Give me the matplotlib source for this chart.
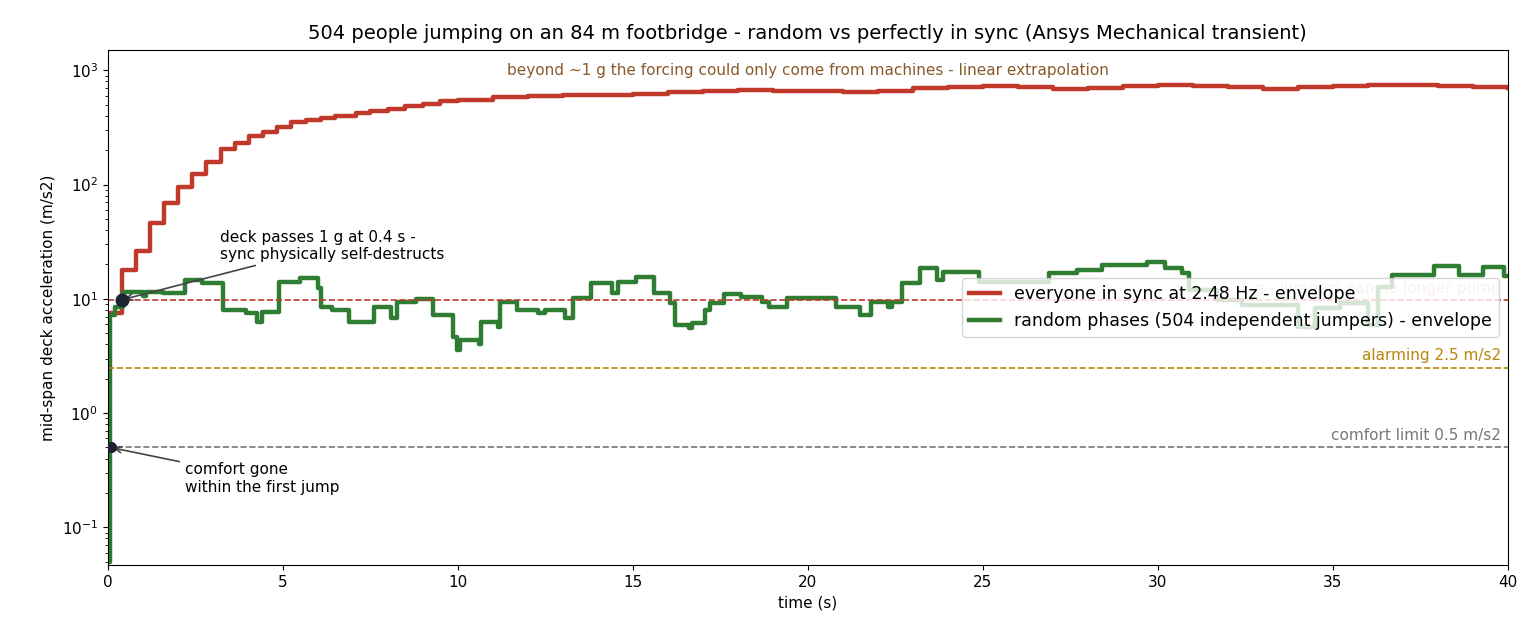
import matplotlib
matplotlib.use("Agg")
import matplotlib.pyplot as plt

red_t = [0, 0.403, 0.806, 1.21, 1.61, 2.02, 2.42, 2.82, 3.23, 3.63, 4.03, 4.44, 4.84, 5.24, 5.65,
         6.1, 6.5, 7.1, 7.5, 8, 8.5, 9, 9.5, 10, 11, 12, 13, 14, 15, 16, 17, 18, 19, 20, 21, 22, 23,
         24, 25, 26, 27, 28, 29, 30, 31, 32, 33, 34, 35, 36, 37, 38, 39, 40]
red_v = [7.5, 18, 26, 46, 69, 96, 125, 158, 203, 230, 265, 290, 320, 350, 365,
         385, 395, 425, 440, 460, 485, 510, 535, 555, 580, 595, 605, 610, 620, 645, 665, 670, 665,
         655, 640, 665, 700, 720, 725, 710, 680, 705, 730, 740, 735, 715, 690, 715, 735, 745, 740,
         730, 715, 705]

green_t = [0, 0.05, 0.2, 0.43, 1.0, 1.1, 1.57, 2.2, 2.7, 3.3, 3.96, 4.25, 4.4, 4.9, 5.5, 6.0, 6.1,
           6.4, 6.9, 7.6, 8.1, 8.25, 8.8, 9.3, 9.86, 9.97, 10.06, 10.6, 10.65, 11.15, 11.2, 11.7,
           12.3, 12.5, 13.06, 13.3, 13.8, 14.4, 14.57, 15.1, 15.6, 16.06, 16.2, 16.6, 16.7, 17.06,
           17.2, 17.6, 18.1, 18.7, 18.9, 19.4, 20.8, 21.5, 21.8, 22.3, 22.4, 22.7, 23.2, 23.7,
           23.86, 24.9, 26.9, 27.7, 28.4, 29.7, 30.2, 30.7, 30.9, 31.7, 32.4, 34.0, 34.5, 35.2,
           36.0, 36.3, 36.7, 37.9, 38.6, 39.3, 39.9, 40]
green_v = [0.05, 7.2, 8.5, 11.5, 10.6, 11.5, 11.3, 14.7, 13.8, 8.0, 7.5, 6.3, 7.7, 14.1, 15.3, 12.5, 8.5,
           8.0, 6.3, 8.5, 6.8, 9.4, 10.0, 7.2, 4.6, 3.6, 4.4, 4.0, 6.3, 5.7, 9.4, 8.0,
           7.5, 8.0, 6.8, 10.2, 13.8, 11.3, 14.1, 15.6, 11.3, 9.2, 5.9, 5.6, 6.2, 8.0,
           9.2, 11.0, 10.4, 9.4, 8.5, 10.2, 8.5, 7.2, 9.4, 8.5, 9.4, 13.8, 18.7, 14.7,
           17.3, 14.0, 16.9, 18.0, 19.9, 21.1, 18.7, 16.9, 12.0, 9.8, 8.9, 5.7, 8.3, 9.2,
           5.9, 12.8, 16.3, 19.5, 16.3, 19.1, 16.0, 16.0]

RED = "#c0392b"
GREEN = "#2e7d32"

fig = plt.figure(figsize=(15.4, 6.44), dpi=100)
ax = fig.add_axes([0.070, 0.123, 0.909, 0.799])

ax.plot(red_t, red_v, drawstyle="steps-post", color=RED, lw=3.2, label="everyone in sync at 2.48 Hz - envelope")
ax.plot(green_t, green_v, drawstyle="steps-post", color=GREEN, lw=3.2,
        label="random phases (504 independent jumpers) - envelope")

ax.axhline(9.81, color=RED, ls="--", lw=1.2)
ax.axhline(2.5, color="#b8860b", ls="--", lw=1.2)
ax.axhline(0.5, color="#777777", ls="--", lw=1.2)
ax.text(39.8, 10.6, "1 g - jumpers can no longer pump", color=RED, alpha=0.35, ha="right", va="bottom", fontsize=11)
ax.text(39.8, 2.75, "alarming 2.5 m/s2", color="#b8860b", ha="right", va="bottom", fontsize=11)
ax.text(39.8, 0.55, "comfort limit 0.5 m/s2", color="#777777", ha="right", va="bottom", fontsize=11)
ax.text(0.5, 0.96, "beyond ~1 g the forcing could only come from machines - linear extrapolation",
        transform=ax.transAxes, ha="center", va="center", color="#8b5a2b", fontsize=11)

ax.plot([0.4], [9.81], "o", color="#1c2333", ms=9, zorder=5)
ax.plot([0.08], [0.5], "o", color="#1c2333", ms=7, zorder=5)
ax.annotate("deck passes 1 g at 0.4 s -\nsync physically self-destructs", xy=(0.4, 9.81),
            xytext=(3.2, 21), fontsize=11, va="bottom",
            arrowprops=dict(arrowstyle="->", color="#444444", lw=1.2))
ax.annotate("comfort gone\nwithin the first jump", xy=(0.08, 0.5),
            xytext=(2.2, 0.37), fontsize=11, va="top",
            arrowprops=dict(arrowstyle="->", color="#444444", lw=1.2))

ax.set_yscale("log")
ax.set_xlim(0, 40)
ax.set_ylim(0.047, 1500)
ax.set_xlabel("time (s)", fontsize=11)
ax.set_ylabel("mid-span deck acceleration (m/s2)", fontsize=11)
ax.set_title("504 people jumping on an 84 m footbridge - random vs perfectly in sync (Ansys Mechanical transient)",
             fontsize=14, pad=8)
ax.tick_params(labelsize=11)
ax.legend(loc="center right", fontsize=12.5, framealpha=0.8, handlelength=1.8)

fig.savefig("out.png", dpi=100)
